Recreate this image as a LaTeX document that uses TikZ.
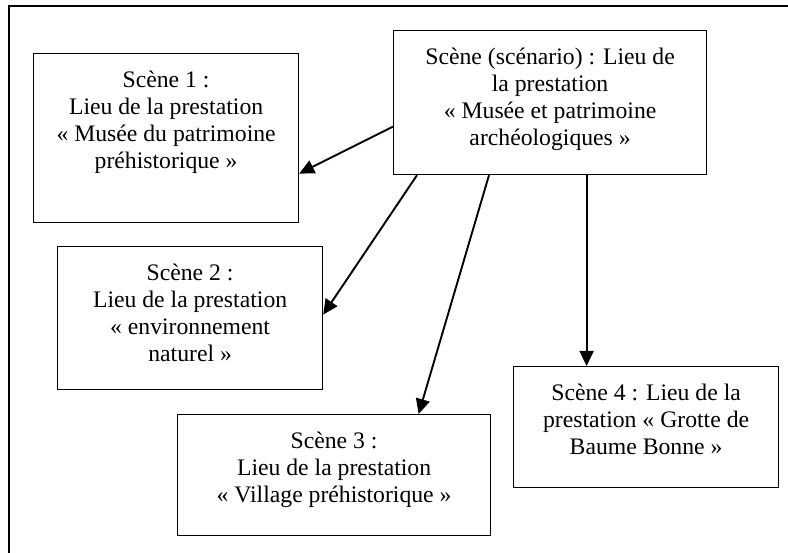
\documentclass[tikz,border=0pt]{standalone}
\usepackage{fontspec}
\setmainfont{Liberation Serif}
\usetikzlibrary{arrows.meta,calc}

% boite de texte : largeur, hauteur, texte
\newcommand{\boite}[3]{\parbox[c][#2][t]{#1}{\centering\vspace*{17pt}#3}}

\begin{document}
\begin{tikzpicture}[x=1pt, y=-1pt,
  every node/.style={font=\fontsize{23.7}{27}\selectfont},
  scene/.style={draw, line width=1.2pt, inner sep=0pt, anchor=north west},
  lien/.style={line width=1.9pt, -{Triangle[length=15pt,width=14pt]}}]
\useasboundingbox (0,0) rectangle (788,553);
\draw[line width=1.2pt] (9,553) -- (9,6) -- (788,6);

\node[scene] (main) at (393,30) {\boite{313pt}{144pt}{Scène (scénario) : Lieu de\\la prestation\\«~Musée et patrimoine\\archéologiques~»}};
\node[scene] (s1) at (33,53) {\boite{265pt}{169pt}{Scène 1 :\\Lieu de la prestation\\«~Musée du patrimoine\\préhistorique~»}};
\node[scene] (s2) at (57,246) {\boite{265pt}{143pt}{Scène 2 :\\Lieu de la prestation\\«~environnement\\naturel~»}};
\node[scene] (s3) at (177,414) {\boite{313pt}{121pt}{Scène 3 :\\Lieu de la prestation\\«~Village préhistorique~»}};
\node[scene] (s4) at (513,366) {\boite{265pt}{121pt}{Scène 4 : Lieu de la\\prestation «~Grotte de\\Baume Bonne~»}};

\draw[lien] ([yshift=-24pt]main.west) -- ([yshift=-35.5pt]s1.east);
\draw[lien] ([xshift=24pt]main.south west) -- ([yshift=3.5pt]s2.east);
\draw[lien] ([xshift=96pt]main.south west) -- ([xshift=84.5pt]s3.north);
\draw[lien] ([xshift=36.5pt]main.south) -- ([xshift=-59.5pt]s4.north);
\end{tikzpicture}
\end{document}
